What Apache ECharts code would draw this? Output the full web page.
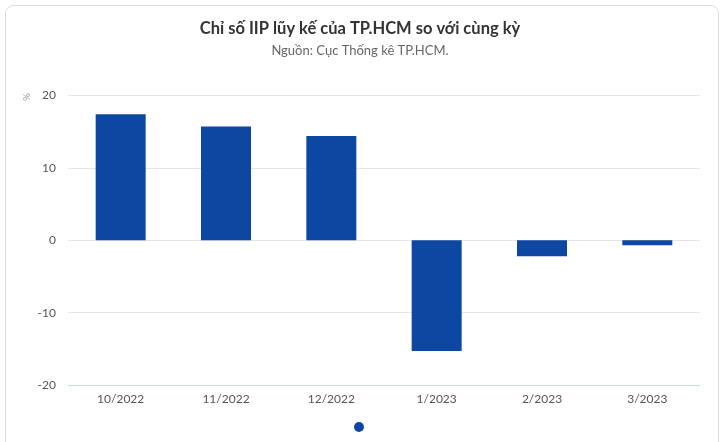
<!DOCTYPE html>
<html>
<head>
<meta charset="utf-8">
<script src="https://cdn.jsdelivr.net/npm/echarts@6/dist/echarts.min.js"></script>
<style>
html,body{margin:0;padding:0;background:#fff;}
#c{width:720px;height:442px;}
</style>
</head>
<body>
<div id="c"></div>
<script>
const categories = ['10/2022','11/2022','12/2022','1/2023','2/2023','3/2023'];
const values = [17.4, 15.7, 14.4, -15.3, -2.2, -0.7];
const yTicks = {min: -20, max: 20, interval: 10};
const titleText = 'Chỉ số IIP lũy kế của TP.HCM so với cùng kỳ';
const subtitleText = 'Nguồn: Cục Thống kê TP.HCM.';
const yUnit = '%';

const chart = echarts.init(document.getElementById('c'));
chart.setOption({
  animation: false,
  textStyle: {fontFamily: 'Lato'},
  graphic: [{
    type: 'rect', left: 3, top: 3,
    shape: {width: 713, height: 450, r: 8},
    style: {fill: 'none', stroke: '#dcdcdc', lineWidth: 1},
    silent: true
  }, {
    type: 'text', x: 26, y: 97, rotation: -Math.PI / 2,
    style: {text: yUnit, fill: '#999', fontSize: 10, fontFamily: 'Lato', align: 'center', verticalAlign: 'middle'},
    silent: true
  }],
  title: {
    text: titleText, subtext: subtitleText, left: 'center', top: 15, itemGap: 7,
    textStyle: {fontFamily: 'Lato', fontSize: 16.5, fontWeight: 'bold', color: '#333'},
    subtextStyle: {fontFamily: 'Lato', fontSize: 13, color: '#666'}
  },
  legend: {
    bottom: 5, left: 349, itemWidth: 10, itemHeight: 10, icon: 'circle', itemGap: 0,
    data: [' '], textStyle: {fontSize: 1, padding: 0}
  },
  grid: {left: 68, right: 20, top: 95.5, bottom: 57},
  xAxis: {
    type: 'category', data: categories, position: 'bottom',
    axisLine: {onZero: false, lineStyle: {color: '#ccd6eb'}},
    axisTick: {show: false},
    axisLabel: {color: '#555', fontSize: 12, margin: 8}
  },
  yAxis: {
    type: 'value', min: yTicks.min, max: yTicks.max, interval: yTicks.interval,
    axisLabel: {color: '#555', fontSize: 12, margin: 12},
    splitLine: {lineStyle: {color: '#e6e6e6'}},
    axisLine: {show: false}, axisTick: {show: false}
  },
  series: [{
    name: ' ', type: 'bar', data: values, barWidth: 50,
    itemStyle: {color: '#0d47a1'}
  }]
});
</script>
</body>
</html>
